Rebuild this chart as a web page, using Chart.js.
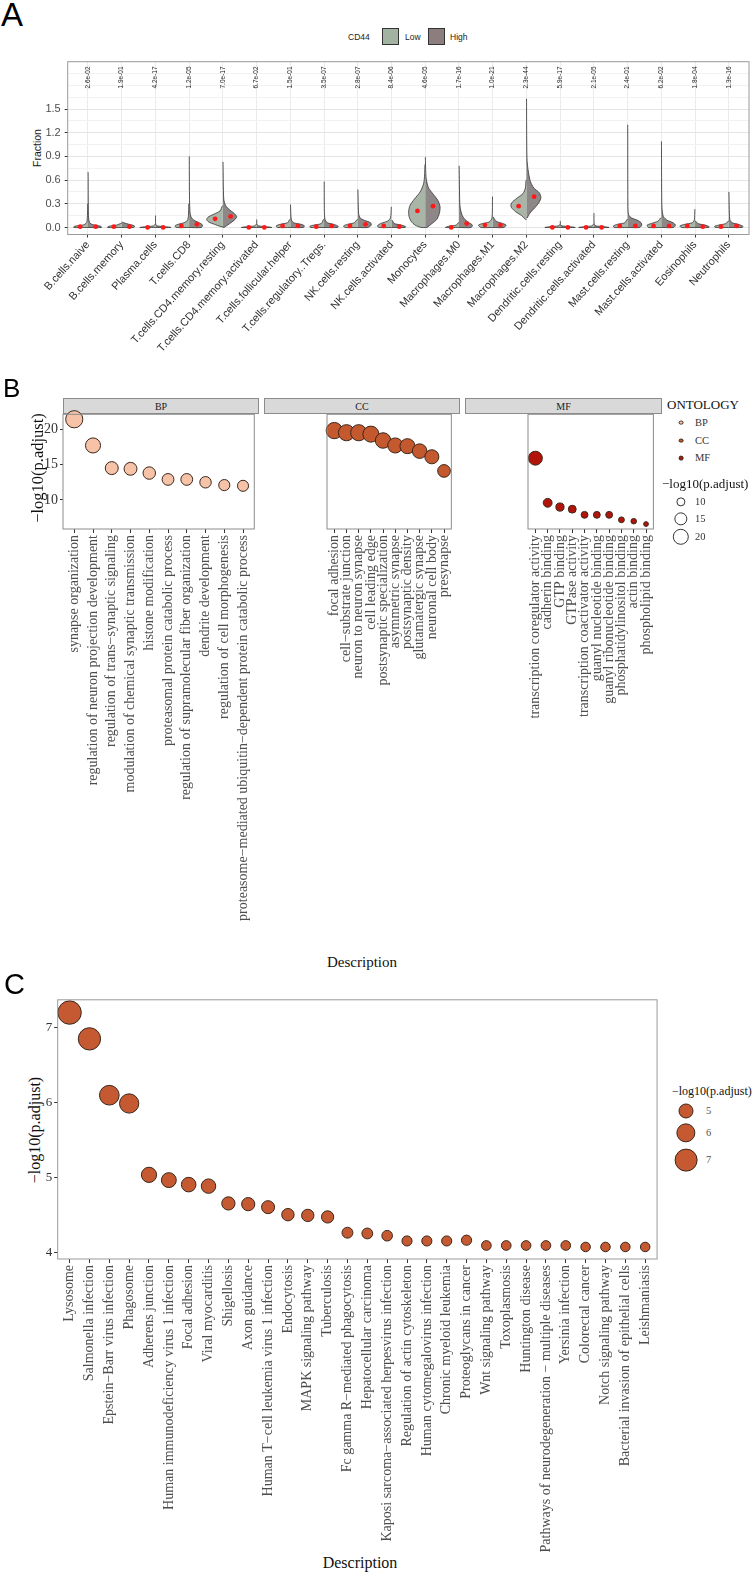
<!DOCTYPE html>
<html>
<head>
<meta charset="utf-8">
<script src="https://cdn.jsdelivr.net/npm/chart.js@4.4.0/dist/chart.umd.min.js"></script>
<style>
  body { margin: 0; background: #fff; }
  #page { position: relative; width: 752px; height: 1574px; overflow: hidden; background: #fff; }
  canvas { position: absolute; }
  .t { position: absolute; white-space: nowrap; line-height: 1; }
  .serif { font-family: "Liberation Serif", "Times New Roman", serif; }
  .sans { font-family: "Liberation Sans", Arial, sans-serif; }
  .c { transform: translate(-50%, -50%); }
  .v { transform: translate(-50%, -50%) rotate(-90deg); }
  .l { transform: translateY(-50%); }
  .dot { position: absolute; border-radius: 50%; box-sizing: border-box; transform: translate(-50%, -50%); }
  .strip { position: absolute; box-sizing: border-box; background: #d9d9d9; border: 1px solid #8c8c8c;
           font-family: "Liberation Serif", serif; font-size: 10px; color: #1a1a1a; text-align: center; }
</style>
</head>
<body>
<div id="page">
  <!-- panel A -->
  <div class="t sans" style="left:1px;top:-2px;font-size:33px;">A</div>
  <div class="t sans l" style="left:348px;top:36.5px;font-size:8.5px;color:#222;">CD44</div>
  <div style="position:absolute;left:382px;top:28px;width:17px;height:17px;box-sizing:border-box;background:#a3b3a1;border:1px solid #333;"></div>
  <div class="t sans l" style="left:405px;top:36.5px;font-size:8.5px;color:#222;">Low</div>
  <div style="position:absolute;left:428px;top:28px;width:17px;height:17px;box-sizing:border-box;background:#8c7e7e;border:1px solid #333;"></div>
  <div class="t sans l" style="left:450px;top:36.5px;font-size:8.5px;color:#222;">High</div>
  <div class="t sans v" style="left:36.7px;top:148px;font-size:10.5px;color:#1a1a1a;">Fraction</div>
  <canvas id="chartA" width="752" height="390" style="left:0;top:0;"></canvas>

  <!-- panel B -->
  <div class="t sans" style="left:3px;top:374.5px;font-size:26px;">B</div>
  <div class="strip" style="left:63px;top:397.7px;width:196px;height:16.6px;line-height:15px;">BP</div>
  <div class="strip" style="left:264px;top:397.7px;width:196px;height:16.6px;line-height:15px;">CC</div>
  <div class="strip" style="left:465px;top:397.7px;width:197px;height:16.6px;line-height:15px;">MF</div>
  <div class="t serif v" style="left:38px;top:468px;font-size:16.5px;color:#111;">−log10(p.adjust)</div>
  <div class="t serif c" style="left:362px;top:962px;font-size:15px;color:#111;">Description</div>
  <canvas id="chartBP" width="262" height="560" style="left:0;top:400px;"></canvas>
  <canvas id="chartCC" width="202" height="560" style="left:261px;top:400px;"></canvas>
  <canvas id="chartMF" width="203" height="560" style="left:462px;top:400px;"></canvas>
  <div id="legendB"></div>

  <!-- panel C -->
  <div class="t sans" style="left:4px;top:969.5px;font-size:29px;">C</div>
  <div class="t serif v" style="left:35px;top:1130px;font-size:16px;color:#111;">−log10(p.adjust)</div>
  <div class="t serif c" style="left:360px;top:1563px;font-size:16px;color:#111;">Description</div>
  <canvas id="chartC" width="664" height="584" style="left:0;top:990px;"></canvas>
  <div id="legendC"></div>
</div>

<script>
// ---------- Panel A: immune cell fractions, CD44 low vs high ----------
const cellTypes = ["B.cells.naive", "B.cells.memory", "Plasma.cells", "T.cells.CD8",
  "T.cells.CD4.memory.resting", "T.cells.CD4.memory.activated", "T.cells.follicular.helper",
  "T.cells.regulatory..Tregs.", "NK.cells.resting", "NK.cells.activated", "Monocytes",
  "Macrophages.M0", "Macrophages.M1", "Macrophages.M2", "Dendritic.cells.resting",
  "Dendritic.cells.activated", "Mast.cells.resting", "Mast.cells.activated", "Eosinophils", "Neutrophils"];
const pValues = ["2.6e-02", "1.9e-01", "4.2e-17", "1.2e-05", "7.0e-17", "6.7e-02", "1.5e-01", "3.5e-07",
  "2.8e-07", "8.4e-06", "4.6e-05", "1.7e-16", "1.0e-21", "2.3e-44", "5.9e-17", "2.1e-05",
  "2.4e-01", "6.2e-02", "1.8e-04", "1.3e-16"];
const lowMean  = [0.01, 0.01, 0.0, 0.02, 0.11, 0.0, 0.02, 0.01, 0.02, 0.02, 0.21, 0.0, 0.03, 0.27, 0.0, 0.0, 0.02, 0.02, 0.02, 0.01];
const highMean = [0.01, 0.01, 0.0, 0.04, 0.14, 0.0, 0.02, 0.02, 0.04, 0.01, 0.27, 0.05, 0.03, 0.39, 0.0, 0.0, 0.02, 0.02, 0.01, 0.02];
// density outline of each half violin: [fraction, half width]
const lowShape = [
  [[0,0.42],[0.015,0.4],[0.03,0.15],[0.06,0.04],[0.15,0.015],[0.3,0.006]],
  [[0,0.42],[0.015,0.38],[0.03,0.15],[0.05,0.03]],
  [[0,0.46],[0.01,0.3],[0.02,0.06],[0.04,0.01]],
  [[0,0.38],[0.02,0.42],[0.04,0.33],[0.06,0.15],[0.09,0.05],[0.15,0.02],[0.3,0.008]],
  [[0.01,0.05],[0.04,0.25],[0.07,0.42],[0.1,0.48],[0.13,0.44],[0.17,0.26],[0.21,0.08],[0.27,0.02]],
  [[0,0.45],[0.01,0.3],[0.02,0.06],[0.04,0.01]],
  [[0,0.38],[0.02,0.42],[0.04,0.3],[0.06,0.08],[0.1,0.02]],
  [[0,0.4],[0.015,0.42],[0.03,0.3],[0.05,0.08],[0.1,0.02]],
  [[0,0.38],[0.02,0.42],[0.04,0.3],[0.06,0.1],[0.1,0.02]],
  [[0,0.36],[0.02,0.42],[0.05,0.32],[0.08,0.12],[0.12,0.03],[0.26,0.005]],
  [[0,0.12],[0.03,0.3],[0.08,0.42],[0.14,0.48],[0.21,0.49],[0.28,0.45],[0.36,0.32],[0.45,0.15],[0.55,0.05],[0.65,0.02],[0.8,0.006]],
  [[0,0.4],[0.015,0.3],[0.03,0.08],[0.06,0.02]],
  [[0,0.35],[0.03,0.42],[0.05,0.3],[0.07,0.1],[0.12,0.02],[0.39,0.005]],
  [[0.1,0.02],[0.15,0.14],[0.2,0.32],[0.25,0.44],[0.29,0.46],[0.33,0.4],[0.38,0.25],[0.43,0.1],[0.5,0.03],[0.6,0.01]],
  [[0,0.45],[0.01,0.3],[0.02,0.06],[0.035,0.01]],
  [[0,0.45],[0.01,0.3],[0.02,0.06],[0.04,0.01]],
  [[0,0.4],[0.02,0.42],[0.04,0.3],[0.06,0.08],[0.1,0.02]],
  [[0,0.38],[0.03,0.42],[0.05,0.3],[0.08,0.1],[0.12,0.02]],
  [[0,0.4],[0.02,0.45],[0.04,0.3],[0.06,0.08],[0.1,0.02],[0.23,0.005]],
  [[0,0.4],[0.015,0.42],[0.03,0.3],[0.05,0.08],[0.08,0.02]]
];
const highShape = [
  [[0,0.4],[0.015,0.38],[0.035,0.15],[0.06,0.05],[0.15,0.015],[0.7,0.005]],
  [[0,0.36],[0.02,0.38],[0.04,0.22],[0.06,0.06],[0.07,0.01]],
  [[0,0.46],[0.01,0.3],[0.02,0.06],[0.04,0.01],[0.15,0.004]],
  [[0,0.36],[0.03,0.4],[0.06,0.3],[0.09,0.15],[0.13,0.06],[0.2,0.025],[0.4,0.01],[0.9,0.004]],
  [[0,0.03],[0.03,0.14],[0.07,0.27],[0.11,0.38],[0.14,0.41],[0.18,0.33],[0.23,0.18],[0.28,0.08],[0.35,0.03],[0.5,0.015],[0.83,0.005]],
  [[0,0.45],[0.01,0.3],[0.02,0.06],[0.04,0.01],[0.1,0.004]],
  [[0,0.38],[0.02,0.42],[0.04,0.32],[0.06,0.1],[0.1,0.03],[0.29,0.005]],
  [[0,0.4],[0.015,0.42],[0.035,0.32],[0.06,0.1],[0.1,0.03],[0.2,0.01],[0.58,0.004]],
  [[0,0.3],[0.03,0.4],[0.06,0.38],[0.09,0.2],[0.12,0.07],[0.18,0.025],[0.48,0.005]],
  [[0,0.4],[0.01,0.42],[0.03,0.3],[0.05,0.08],[0.09,0.02]],
  [[0,0.05],[0.05,0.2],[0.1,0.34],[0.18,0.42],[0.26,0.44],[0.34,0.38],[0.42,0.24],[0.5,0.1],[0.6,0.035],[0.7,0.015],[0.89,0.004]],
  [[0,0.36],[0.03,0.4],[0.06,0.3],[0.1,0.18],[0.15,0.1],[0.22,0.05],[0.3,0.025],[0.78,0.005]],
  [[0,0.33],[0.03,0.4],[0.05,0.3],[0.08,0.1],[0.13,0.02]],
  [[0.12,0.02],[0.18,0.1],[0.25,0.25],[0.32,0.38],[0.38,0.43],[0.44,0.38],[0.5,0.22],[0.58,0.12],[0.7,0.06],[0.85,0.02],[1.2,0.008],[1.63,0.004]],
  [[0,0.45],[0.01,0.3],[0.02,0.06],[0.035,0.01],[0.08,0.004]],
  [[0,0.45],[0.01,0.3],[0.02,0.06],[0.04,0.01],[0.18,0.004]],
  [[0,0.36],[0.03,0.42],[0.06,0.4],[0.09,0.3],[0.12,0.12],[0.16,0.03],[0.3,0.01],[1.3,0.004]],
  [[0,0.36],[0.03,0.42],[0.06,0.35],[0.09,0.18],[0.14,0.06],[0.25,0.02],[0.5,0.01],[1.09,0.004]],
  [[0,0.4],[0.01,0.42],[0.03,0.3],[0.05,0.08],[0.08,0.02]],
  [[0,0.4],[0.015,0.42],[0.035,0.32],[0.06,0.1],[0.1,0.03],[0.45,0.005]]
];
const fracTicks = [0, 0.3, 0.6, 0.9, 1.2, 1.5];
const fracGrid = [0, 0.15, 0.3, 0.45, 0.6, 0.75, 0.9, 1.05, 1.2, 1.35, 1.5, 1.65, 1.8, 1.95];

// ---------- Panel B: GO enrichment ----------
const bpTerms = ["synapse organization", "regulation of neuron projection development",
  "regulation of trans−synaptic signaling", "modulation of chemical synaptic transmission",
  "histone modification", "proteasomal protein catabolic process",
  "regulation of supramolecular fiber organization", "dendrite development",
  "regulation of cell morphogenesis", "proteasome−mediated ubiquitin−dependent protein catabolic process"];
const bpValues = [21.4, 17.7, 14.5, 14.4, 13.8, 12.9, 12.9, 12.5, 12.1, 12.0];
const ccTerms = ["focal adhesion", "cell−substrate junction", "neuron to neuron synapse", "cell leading edge",
  "postsynaptic specialization", "asymmetric synapse", "postsynaptic density", "glutamatergic synapse",
  "neuronal cell body", "presynapse"];
const ccValues = [19.8, 19.5, 19.5, 19.3, 18.4, 17.7, 17.6, 16.9, 16.1, 14.1];
const mfTerms = ["transcription coregulator activity", "cadherin binding", "GTP binding", "GTPase activity",
  "transcription coactivator activity", "guanyl nucleotide binding", "guanyl ribonucleotide binding",
  "phosphatidylinositol binding", "actin binding", "phospholipid binding"];
const mfValues = [15.9, 9.6, 9.0, 8.7, 7.9, 7.9, 7.9, 7.2, 7.0, 6.6];
const goTicks = [10, 15, 20];

// ---------- Panel C: KEGG enrichment ----------
const keggTerms = ["Lysosome", "Salmonella infection", "Epstein−Barr virus infection", "Phagosome",
  "Adherens junction", "Human immunodeficiency virus 1 infection", "Focal adhesion", "Viral myocarditis",
  "Shigellosis", "Axon guidance", "Human T−cell leukemia virus 1 infection", "Endocytosis",
  "MAPK signaling pathway", "Tuberculosis", "Fc gamma R−mediated phagocytosis", "Hepatocellular carcinoma",
  "Kaposi sarcoma−associated herpesvirus infection", "Regulation of actin cytoskeleton",
  "Human cytomegalovirus infection", "Chronic myeloid leukemia", "Proteoglycans in cancer",
  "Wnt signaling pathway", "Toxoplasmosis", "Huntington disease",
  "Pathways of neurodegeneration − multiple diseases", "Yersinia infection", "Colorectal cancer",
  "Notch signaling pathway", "Bacterial invasion of epithelial cells", "Leishmaniasis"];
const keggValues = [7.2, 6.85, 6.1, 5.99, 5.04, 4.97, 4.91, 4.89, 4.66, 4.65, 4.61, 4.51, 4.5, 4.48,
  4.27, 4.26, 4.23, 4.16, 4.16, 4.16, 4.17, 4.1, 4.1, 4.1, 4.1, 4.1, 4.08, 4.08, 4.08, 4.08];
const keggTicks = [4, 5, 6, 7];

// ---------- styling ----------
const SANS = '"Liberation Sans", Arial, sans-serif';
const SERIF = '"Liberation Serif", "Times New Roman", serif';
const LOW_FILL = '#a9b5a7';
const HIGH_FILL = '#8e8787';
const BP_COL = '#f6c3a9', CC_COL = '#c4592f', MF_COL = '#b3140a', KEGG_COL = '#c55a32';
const OUTLINE = '#3a261a';

Chart.defaults.animation = false;
Chart.defaults.events = [];
Chart.defaults.plugins.legend.display = false;
Chart.defaults.plugins.tooltip.enabled = false;

const frame = {
  id: 'frame',
  afterDraw(chart) {
    const a = chart.chartArea, ctx = chart.ctx;
    ctx.save();
    ctx.strokeStyle = chart.options.plugins.frame.color;
    ctx.lineWidth = 1;
    ctx.strokeRect(a.left, a.top, a.right - a.left, a.bottom - a.top);
    ctx.restore();
  }
};

const pvals = {
  id: 'pvals',
  afterDatasetsDraw(chart) {
    const { ctx, scales: { x, y } } = chart;
    ctx.save();
    ctx.font = '6.5px ' + SANS;
    ctx.fillStyle = '#222';
    ctx.textAlign = 'center';
    ctx.textBaseline = 'middle';
    pValues.forEach((p, i) => {
      ctx.save();
      ctx.translate(x.getPixelForValue(i), y.getPixelForValue(1.9));
      ctx.rotate(-Math.PI / 2);
      ctx.fillText(p, 0, 0);
      ctx.restore();
    });
    ctx.restore();
  }
};

function halfViolin(i, prof, side, fill) {
  const pts = [{ x: i, y: prof[0][0] }];
  prof.forEach(([y, w]) => pts.push({ x: i + side * w, y: y }));
  pts.push({ x: i, y: prof[prof.length - 1][0] });
  return { type: 'line', data: pts, fill: 'shape', backgroundColor: fill, borderColor: '#333',
           borderWidth: 0.8, pointRadius: 0, tension: 0.25, order: 2 };
}

const isMajor = v => fracTicks.some(t => Math.abs(t - v) < 1e-6);

// ---------- chart A ----------
const aSets = [];
cellTypes.forEach((c, i) => {
  aSets.push(halfViolin(i, lowShape[i], -1, LOW_FILL));
  aSets.push(halfViolin(i, highShape[i], 1, HIGH_FILL));
});
aSets.push({ type: 'scatter', data: lowMean.map((v, i) => ({ x: i - 0.23, y: v })), order: 0,
  pointRadius: 2.4, pointBackgroundColor: '#ff1a1a', pointBorderWidth: 0 });
aSets.push({ type: 'scatter', data: highMean.map((v, i) => ({ x: i + 0.23, y: v })), order: 0,
  pointRadius: 2.4, pointBackgroundColor: '#ff1a1a', pointBorderWidth: 0 });

new Chart(document.getElementById('chartA'), {
  type: 'line',
  data: { datasets: aSets },
  plugins: [frame, pvals],
  options: {
    responsive: false, devicePixelRatio: 1,
    layout: { padding: { top: 61.7, right: 3, left: 0, bottom: 0 }, autoPadding: false },
    plugins: { frame: { color: '#9a9a9a' } },
    scales: {
      x: {
        type: 'linear', min: -0.6, max: 19.6,
        afterBuildTicks: s => { s.ticks = cellTypes.map((c, i) => ({ value: i })); },
        afterFit: s => { s.height = 155.5; },
        ticks: { autoSkip: false, minRotation: 48, maxRotation: 48, padding: 1, color: '#333',
                 font: { family: SANS, size: 11 }, callback: v => cellTypes[v] },
        grid: { color: '#ebebeb', tickLength: 3, tickColor: '#333' },
        border: { display: false }
      },
      y: {
        type: 'linear', min: -0.089, max: 2.1,
        afterBuildTicks: s => { s.ticks = fracGrid.map(v => ({ value: v })); },
        afterFit: s => { s.width = 67.7; },
        ticks: { autoSkip: false, padding: 4, color: '#4d4d4d', font: { family: SANS, size: 11 },
                 callback: v => (isMajor(v) && v <= 1.5) ? v.toFixed(1) : '' },
        grid: {
          color: ctx => isMajor(ctx.tick.value) ? '#e4e4e4' : '#f2f2f2',
          tickLength: 3,
          tickColor: ctx => (isMajor(ctx.tick.value) && ctx.tick.value <= 1.5) ? '#333' : 'rgba(0,0,0,0)'
        },
        border: { display: false }
      }
    }
  }
});

// ---------- charts B ----------
const radiusB = v => Math.sqrt(Math.max(4.6 * v - 24.6, 2));
function goFacet(id, terms, values, color, showY, padL) {
  new Chart(document.getElementById(id), {
    type: 'scatter',
    data: { datasets: [{ data: values.map((v, i) => ({ x: i, y: v })), clip: false,
      backgroundColor: color, borderColor: OUTLINE, borderWidth: 1,
      pointRadius: ctx => ctx.raw ? radiusB(ctx.raw.y) : 4 }] },
    plugins: [frame],
    options: {
      responsive: false, devicePixelRatio: 1,
      layout: { padding: { top: 14.3, right: 3, left: padL, bottom: 0 }, autoPadding: false },
      plugins: { frame: { color: '#8c8c8c' } },
      scales: {
        x: {
          type: 'linear', min: -0.6, max: 9.6,
          afterBuildTicks: s => { s.ticks = terms.map((t, i) => ({ value: i })); },
          afterFit: s => { s.height = 431; },
          ticks: { autoSkip: false, minRotation: 90, maxRotation: 90, padding: 2, color: '#4d4d4d',
                   font: { family: SERIF, size: 14 }, callback: v => terms[v] },
          grid: { drawOnChartArea: false, tickLength: 4, tickColor: '#333', color: '#333' },
          border: { display: false }
        },
        y: {
          display: showY, type: 'linear', min: 5.9, max: 22.1,
          afterBuildTicks: s => { s.ticks = goTicks.map(v => ({ value: v })); },
          afterFit: s => { s.width = 63; },
          ticks: { padding: 2, color: '#333', font: { family: SERIF, size: 14 } },
          grid: { drawOnChartArea: false, tickLength: 3, tickColor: '#333', color: '#333' },
          border: { display: false }
        }
      }
    }
  });
}
goFacet('chartBP', bpTerms, bpValues, BP_COL, true, 0);
goFacet('chartCC', ccTerms, ccValues, CC_COL, false, 3);
goFacet('chartMF', mfTerms, mfValues, MF_COL, false, 3);

// ---------- chart C ----------
const radiusC = v => Math.sqrt(Math.max(36.7 * v - 127, 4));
new Chart(document.getElementById('chartC'), {
  type: 'scatter',
  data: { datasets: [{ data: keggValues.map((v, i) => ({ x: i, y: v })), clip: false,
    backgroundColor: KEGG_COL, borderColor: OUTLINE, borderWidth: 1,
    pointRadius: ctx => ctx.raw ? radiusC(ctx.raw.y) : 5 }] },
  plugins: [frame],
  options: {
    responsive: false, devicePixelRatio: 1,
    layout: { padding: { top: 8.5, right: 2, left: 0, bottom: 0 }, autoPadding: false },
    plugins: { frame: { color: '#9a9a9a' } },
    scales: {
      x: {
        type: 'linear', min: -0.6, max: 29.6,
        afterBuildTicks: s => { s.ticks = keggTerms.map((t, i) => ({ value: i })); },
        afterFit: s => { s.height = 315; },
        ticks: { autoSkip: false, minRotation: 90, maxRotation: 90, padding: 2, color: '#4d4d4d',
                 font: { family: SERIF, size: 14 }, callback: v => keggTerms[v] },
        grid: { drawOnChartArea: false, tickLength: 4, tickColor: '#333', color: '#333' },
        border: { display: false }
      },
      y: {
        type: 'linear', min: 3.92, max: 7.37,
        afterBuildTicks: s => { s.ticks = keggTicks.map(v => ({ value: v })); },
        afterFit: s => { s.width = 57.7; },
        ticks: { padding: 2, color: '#333', font: { family: SERIF, size: 13 } },
        grid: { drawOnChartArea: false, tickLength: 3.5, tickColor: '#333', color: '#333' },
        border: { display: false }
      }
    }
  }
});

// ---------- HTML legends ----------
function addText(parent, txt, left, top, size, color, cls) {
  const d = document.createElement('div');
  d.className = 't serif ' + (cls || 'l');
  d.style.left = left + 'px'; d.style.top = top + 'px';
  d.style.fontSize = size + 'px'; d.style.color = color;
  d.textContent = txt;
  parent.appendChild(d);
}
function addDot(parent, cx, cy, r, fill, border) {
  const d = document.createElement('div');
  d.className = 'dot';
  d.style.left = cx + 'px'; d.style.top = cy + 'px';
  d.style.width = (2 * r) + 'px'; d.style.height = (2 * r) + 'px';
  d.style.background = fill; d.style.border = '1px solid ' + border;
  parent.appendChild(d);
}
const lb = document.getElementById('legendB');
addText(lb, 'ONTOLOGY', 667, 404, 13, '#111');
[['BP', BP_COL, 422.7], ['CC', CC_COL, 440.7], ['MF', MF_COL, 458.3]].forEach(([n, col, y]) => {
  addDot(lb, 681, y, 2.4, col, OUTLINE);
  addText(lb, n, 695, y, 10.5, '#333');
});
addText(lb, '−log10(p.adjust)', 662, 483, 13, '#111');
[[10, 501.7], [15, 518.5], [20, 537]].forEach(([v, y]) => {
  addDot(lb, 681, y, radiusB(v), '#fff', '#333');
  addText(lb, String(v), 695, y, 10.5, '#333');
});
const lc = document.getElementById('legendC');
addText(lc, '−log10(p.adjust)', 672, 1091, 12, '#111');
[[5, 1110.7], [6, 1133], [7, 1160]].forEach(([v, y]) => {
  addDot(lc, 686, y, radiusC(v), KEGG_COL, OUTLINE);
  addText(lc, String(v), 706, y, 10.5, '#555');
});
</script>
</body>
</html>
